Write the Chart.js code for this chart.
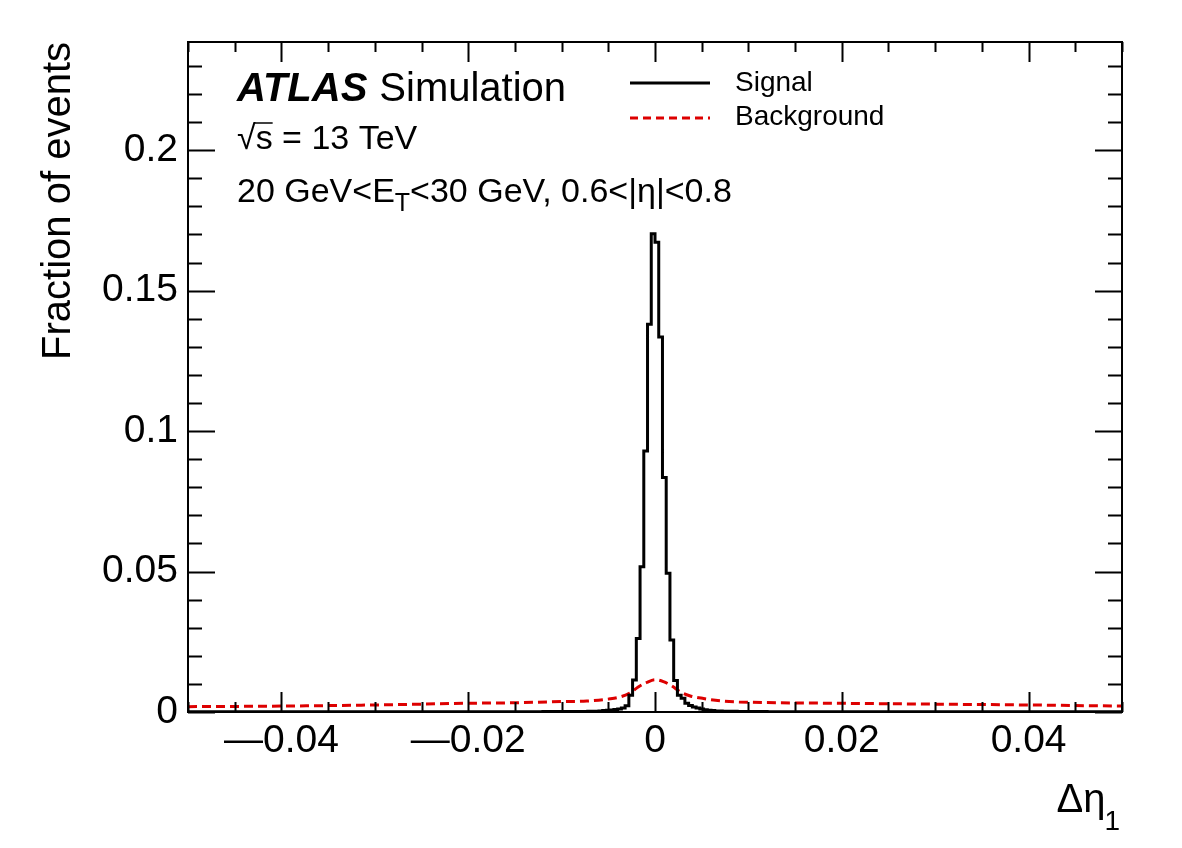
<!DOCTYPE html>
<html>
<head>
<meta charset="utf-8">
<script src="https://cdn.jsdelivr.net/npm/chart.js@4.4.1/dist/chart.umd.min.js"></script>
<style>
body { margin: 0; background: #fff; }
</style>
</head>
<body>
<canvas id="myChart" width="1182" height="848"></canvas>
<script>
// signal histogram: left bin edges + bin contents, closed at xMax
const signalEdges = [-0.05, -0.02, -0.012, -0.009, -0.0072, -0.006, -0.0056, -0.0052, -0.0048, -0.0044,
    -0.004, -0.0036, -0.0032, -0.0028, -0.0024, -0.002, -0.0016, -0.0012, -0.0008, -0.0004,
    0, 0.0004, 0.0008, 0.0012, 0.0016, 0.002, 0.0024, 0.0028, 0.0032, 0.0036,
    0.004, 0.0044, 0.0048, 0.0052, 0.0056, 0.006, 0.0064, 0.0072, 0.0088, 0.012, 0.02];
const signalValues = [0.00005, 0.0001, 0.00015, 0.0002, 0.0003, 0.0004, 0.0005, 0.0006, 0.0007, 0.0009,
    0.0011, 0.0014, 0.0022, 0.006, 0.0114, 0.0262, 0.0517, 0.0929, 0.138, 0.1702,
    0.1672, 0.1335, 0.0835, 0.0494, 0.0256, 0.0112, 0.006, 0.0049, 0.0031, 0.0023,
    0.0018, 0.0014, 0.0011, 0.0008, 0.0006, 0.0005, 0.0004, 0.0003, 0.0002, 0.0001, 0.00005];
const xMin = -0.05;
const xMax = 0.05;
const yMax = 0.2385;

// background (dashed red)
const bgX = [-0.05, -0.04, -0.03, -0.02, -0.015, -0.01, -0.0073, -0.0048, -0.0037, -0.0027, -0.0018, -0.0009,
    0, 0.0009, 0.0018, 0.0027, 0.0037, 0.0052, 0.007, 0.009, 0.02, 0.03, 0.04, 0.05];
const bgY = [0.0019, 0.0021, 0.0025, 0.0031, 0.0033, 0.0037, 0.0039, 0.0047, 0.0054, 0.0067, 0.0089, 0.0105,
    0.0115, 0.0108, 0.0093, 0.0072, 0.0058, 0.0048, 0.004, 0.0036, 0.0031, 0.0028, 0.0025, 0.0021];

const xTicks = [-0.04, -0.02, 0, 0.02, 0.04];
const yTicks = [0, 0.05, 0.1, 0.15, 0.2];
const xMinorStep = 0.005;
const yMinorStep = 0.01;

const FONT = '"Liberation Sans", Arial, Helvetica, sans-serif';

let signalData = [];
for (let i = 0; i < signalEdges.length; i++) {
    signalData.push({x: signalEdges[i], y: signalValues[i]});
}
signalData.push({x: xMax, y: signalValues[signalValues.length - 1]});

let bgData = bgX.map((v, i) => ({x: v, y: bgY[i]}));

function fmt(v) {
    let s = parseFloat(v.toFixed(4)).toString();
    // ROOT draws a long minus
    return s.replace('-', '\u2014');
}

// ROOT style frame with inward ticks on all four sides + texts
const atlasDecor = {
    id: 'atlasDecor',
    afterDraw(chart) {
        const ctx = chart.ctx;
        const a = chart.chartArea;
        const xs = chart.scales.x, ys = chart.scales.y;
        ctx.save();
        ctx.strokeStyle = '#000';
        ctx.lineWidth = 2;
        ctx.strokeRect(a.left, a.top, a.right - a.left, a.bottom - a.top);

        ctx.beginPath();
        let n = Math.round((xMax - xMin) / xMinorStep);
        for (let i = 0; i <= n; i++) {
            let v = xMin + i * xMinorStep;
            let major = xTicks.some(t => Math.abs(t - v) < 1e-9);
            let len = major ? 20 : 10;
            let px = Math.round(xs.getPixelForValue(v)) + 0.5;
            ctx.moveTo(px, a.bottom); ctx.lineTo(px, a.bottom - len);
            ctx.moveTo(px, a.top); ctx.lineTo(px, a.top + len);
        }
        let m = Math.floor(yMax / yMinorStep + 1e-9);
        for (let i = 0; i <= m; i++) {
            let v = i * yMinorStep;
            let major = yTicks.some(t => Math.abs(t - v) < 1e-9);
            let len = major ? 27 : 14;
            let py = Math.round(ys.getPixelForValue(v)) + 0.5;
            ctx.moveTo(a.left, py); ctx.lineTo(a.left + len, py);
            ctx.moveTo(a.right, py); ctx.lineTo(a.right - len, py);
        }
        ctx.stroke();

        ctx.fillStyle = '#000';
        ctx.textBaseline = 'alphabetic';
        ctx.textAlign = 'left';
        // ATLAS Simulation
        ctx.font = 'italic bold 40px ' + FONT;
        ctx.fillText('ATLAS', 237, 101);
        let w = ctx.measureText('ATLAS').width;
        ctx.font = '40px ' + FONT;
        ctx.fillText('Simulation', 237 + w + 12, 101);

        // sqrt(s) = 13 TeV
        ctx.font = '34px ' + FONT;
        ctx.fillText('\u221A', 237, 149);
        let wr = ctx.measureText('\u221A').width;
        ctx.fillText('s = 13 TeV', 237 + wr, 149);
        let ws = ctx.measureText('s').width;
        ctx.beginPath();
        ctx.lineWidth = 1.5;
        ctx.moveTo(237 + wr - 1, 123);
        ctx.lineTo(237 + wr + ws, 123);
        ctx.stroke();

        // cuts line with E_T subscript
        let x0 = 237, base = 202;
        ctx.font = '34px ' + FONT;
        ctx.fillText('20 GeV<E', x0, base);
        x0 += ctx.measureText('20 GeV<E').width;
        ctx.font = '25px ' + FONT;
        ctx.fillText('T', x0, base + 9);
        x0 += ctx.measureText('T').width;
        ctx.font = '34px ' + FONT;
        ctx.fillText('<30 GeV, 0.6<|\u03B7|<0.8', x0, base);

        // legend
        ctx.lineWidth = 3;
        ctx.strokeStyle = '#000';
        ctx.beginPath();
        ctx.moveTo(630, 83); ctx.lineTo(710, 83);
        ctx.stroke();
        ctx.strokeStyle = '#dd0000';
        ctx.setLineDash([8, 5]);
        ctx.beginPath();
        ctx.moveTo(630, 118); ctx.lineTo(710, 118);
        ctx.stroke();
        ctx.setLineDash([]);
        ctx.font = '28px ' + FONT;
        ctx.textBaseline = 'middle';
        ctx.fillText('Signal', 735, 83);
        ctx.fillText('Background', 735, 117);

        // axis titles
        ctx.textBaseline = 'alphabetic';
        ctx.save();
        ctx.translate(70, a.top);
        ctx.rotate(-Math.PI / 2);
        ctx.textAlign = 'right';
        ctx.font = '40px ' + FONT;
        ctx.fillText('Fraction of events', 0, 0);
        ctx.restore();

        ctx.font = '28px ' + FONT;
        let w1 = ctx.measureText('1').width;
        ctx.textAlign = 'right';
        ctx.fillText('1', a.right - 2, 830);
        ctx.font = '40px ' + FONT;
        ctx.fillText('\u0394\u03B7', a.right - w1 - 1, 812);
        ctx.restore();
    }
};

const config = {
    type: 'scatter',
    data: {
        datasets: [{
            label: 'Signal',
            data: signalData,
            showLine: true,
            stepped: true,
            borderColor: '#000',
            borderWidth: 3,
            pointRadius: 0
        }, {
            label: 'Background',
            data: bgData,
            showLine: true,
            cubicInterpolationMode: 'monotone',
            borderColor: '#dd0000',
            borderWidth: 3,
            borderDash: [9, 5],
            pointRadius: 0
        }]
    },
    options: {
        responsive: false,
        animation: false,
        devicePixelRatio: 1,
        layout: { padding: { top: 42, right: 60, left: 0, bottom: 0 } },
        plugins: { legend: { display: false }, tooltip: { enabled: false } },
        scales: {
            x: {
                type: 'linear',
                min: xMin,
                max: xMax,
                grid: { display: false, drawTicks: false },
                border: { display: false },
                afterBuildTicks: (s) => { s.ticks = xTicks.map(v => ({value: v})); },
                afterFit: (s) => { s.height = 848 - 712; },
                ticks: {
                    padding: 6,
                    maxRotation: 0,
                    color: '#000',
                    font: { family: FONT, size: 39 },
                    callback: (v) => fmt(v)
                }
            },
            y: {
                type: 'linear',
                min: 0,
                max: yMax,
                grid: { display: false, drawTicks: false },
                border: { display: false },
                afterBuildTicks: (s) => { s.ticks = yTicks.map(v => ({value: v})); },
                afterFit: (s) => { s.width = 188; },
                ticks: {
                    padding: 10,
                    color: '#000',
                    font: { family: FONT, size: 39 },
                    callback: (v) => fmt(v)
                }
            }
        }
    },
    plugins: [atlasDecor]
};

const chart = new Chart(document.getElementById('myChart'), config);
</script>
</body>
</html>
